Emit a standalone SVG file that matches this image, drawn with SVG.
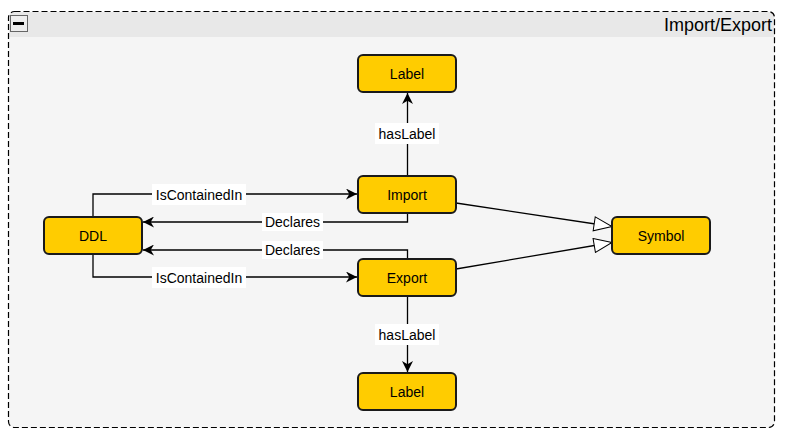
<svg xmlns="http://www.w3.org/2000/svg" width="786" height="439" viewBox="0 0 786 439">
<defs>
<style>
.node rect{fill:#ffcc00;stroke:#1a1a1a;stroke-width:2}
.node text{font-family:"Liberation Sans",Arial,sans-serif;font-size:14px;fill:#000;text-anchor:middle;dominant-baseline:central}
.edge{fill:none;stroke:#000;stroke-width:1.3}
.lbl rect{fill:#fff}
.lbl text{font-family:"Liberation Sans",Arial,sans-serif;font-size:14px;fill:#000;text-anchor:middle;dominant-baseline:central}
</style>
<marker id="arr" viewBox="0 0 10 10" refX="10" refY="5" markerWidth="11" markerHeight="11" markerUnits="userSpaceOnUse" orient="auto">
<path d="M0,0 L10,5 L0,10 L3,5 Z" fill="#000"/>
</marker>
<marker id="tri" viewBox="0 0 20 16" refX="19" refY="8" markerWidth="20" markerHeight="16" markerUnits="userSpaceOnUse" orient="auto">
<path d="M1,1 L19,8 L1,15 Z" fill="#fff" stroke="#000" stroke-width="1"/>
</marker>
</defs>
<g id="container">
<rect x="8.5" y="11.5" width="766" height="416" rx="6" fill="#f5f5f5"/>
<path d="M9,37 V17 a5,5 0 0 1 5,-5 H769 a5,5 0 0 1 5,5 V37 Z" fill="#e8e8e8"/>
<rect x="8.5" y="11.5" width="766" height="416" rx="6" fill="none" stroke="#000" stroke-width="1.2" stroke-dasharray="6,3"/>
<rect x="10.5" y="15.5" width="17" height="16" fill="#eee" stroke="#666" stroke-width="1"/>
<rect x="13" y="22" width="11" height="3" fill="#000"/>
<text x="772" y="25" font-family="'Liberation Sans',Arial,sans-serif" font-size="18" text-anchor="end" dominant-baseline="central" fill="#000">Import/Export</text>
</g>
<g id="connectors">
<path class="edge" d="M93,217 V194 H357" marker-end="url(#arr)"/>
<path class="edge" d="M407.5,213 V222 H143" marker-end="url(#arr)"/>
<path class="edge" d="M407.5,259 V250 H143" marker-end="url(#arr)"/>
<path class="edge" d="M93,254 V277 H357" marker-end="url(#arr)"/>
<path class="edge" d="M407.5,176 V93" marker-end="url(#arr)"/>
<path class="edge" d="M407.5,296 V372" marker-end="url(#arr)"/>
<path class="edge" d="M456,203 L612,226.5" marker-end="url(#tri)"/>
<path class="edge" d="M456,269 L612,242.5" marker-end="url(#tri)"/>
<g class="lbl">
<rect x="152" y="184" width="94" height="21"/><text x="199" y="194.5">IsContainedIn</text>
<rect x="262" y="213" width="61" height="18"/><text x="292.5" y="222">Declares</text>
<rect x="262" y="241" width="61" height="18"/><text x="292.5" y="250">Declares</text>
<rect x="152" y="267" width="94" height="21"/><text x="199" y="277.5">IsContainedIn</text>
<rect x="375" y="123" width="64" height="21"/><text x="407" y="133.5">hasLabel</text>
<rect x="375" y="324" width="64" height="21"/><text x="407" y="334.5">hasLabel</text>
</g>
</g>
<g id="node-label-top" class="node"><rect x="358" y="55" width="98" height="37" rx="5"/><text x="407" y="73.5">Label</text></g>
<g id="node-import" class="node"><rect x="358" y="176" width="98" height="37" rx="5"/><text x="407" y="194.5">Import</text></g>
<g id="node-export" class="node"><rect x="358" y="259" width="98" height="37" rx="5"/><text x="407" y="277.5">Export</text></g>
<g id="node-label-bottom" class="node"><rect x="358" y="373" width="98" height="37" rx="5"/><text x="407" y="391.5">Label</text></g>
<g id="node-ddl" class="node"><rect x="44" y="217" width="98" height="37" rx="5"/><text x="93" y="235.5">DDL</text></g>
<g id="node-symbol" class="node"><rect x="612" y="217" width="98" height="37" rx="5"/><text x="661" y="235.5">Symbol</text></g>
</svg>
